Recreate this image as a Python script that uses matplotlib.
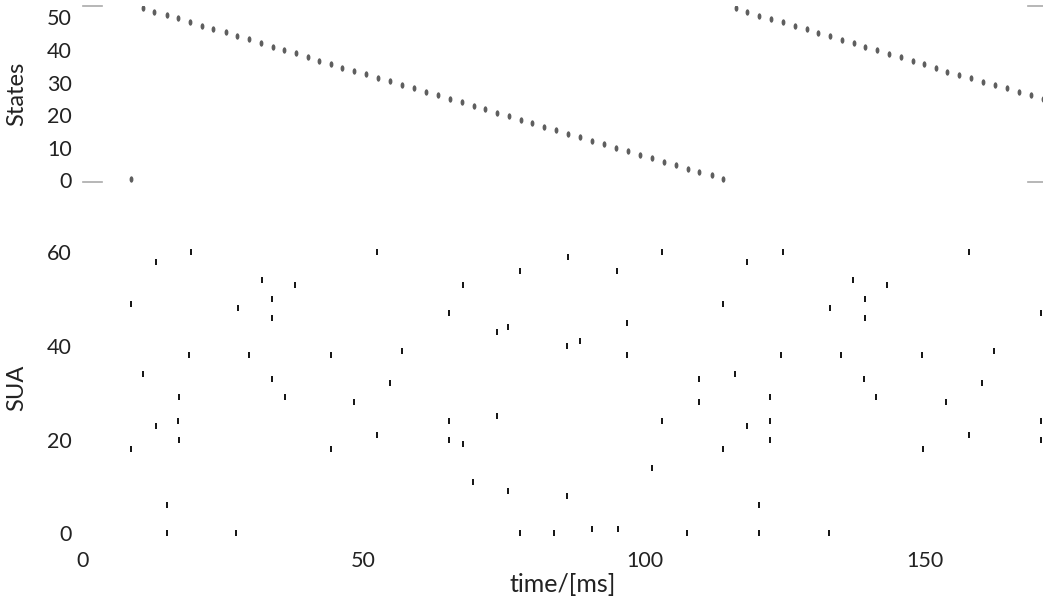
import numpy as np
import matplotlib
matplotlib.use("Agg")
import matplotlib.pyplot as plt
from matplotlib.path import Path
from matplotlib.transforms import Affine2D

plt.rcParams['font.family'] = ['Lato', 'DejaVu Sans']

# decoded state trajectory (time in ms, state index)
state_t = [8.5, 10.74, 12.70, 14.91, 16.97, 19.06, 21.14, 23.21, 25.41, 27.48, 29.56,
           31.70, 33.78, 35.85, 37.93, 40.02, 42.08, 44.17, 46.18, 48.26, 50.35,
           52.48, 54.67, 56.87, 58.95, 61.09, 63.28, 65.36, 67.50, 69.58, 71.54,
           73.68, 75.81, 77.95, 80.02, 82.10, 84.24, 86.32, 88.51, 90.65, 92.79,
           94.98, 97.06, 99.20, 101.34, 103.42, 105.56, 107.75, 109.76, 111.97, 114.03,
           116.30, 118.31, 120.45, 122.53, 124.72, 126.81, 128.89, 130.96, 133.10,
           135.19, 137.33, 139.34, 141.48, 143.54, 145.63, 147.77, 149.78, 151.86,
           153.87, 155.96, 158.10, 160.24, 162.43, 164.57, 166.65, 168.84, 170.97]
state_v = [0.3, 52.8, 51.8, 50.7, 49.7, 48.7, 47.5, 46.4, 45.4, 44.3, 43.3,
           42.1, 41.0, 40.0, 39.0, 37.8, 36.7, 35.7, 34.6, 33.6, 32.5,
           31.5, 30.5, 29.3, 28.3, 27.1, 26.1, 25.0, 24.0, 22.8, 21.9,
           20.8, 19.7, 18.6, 17.5, 16.4, 15.4, 14.3, 13.2, 12.1, 11.1,
           10.0, 9.0, 7.9, 6.8, 5.6, 4.6, 3.6, 2.5, 1.6, 0.4,
           52.8, 51.6, 50.5, 49.5, 48.5, 47.3, 46.3, 45.3, 44.3,
           43.1, 42.0, 41.0, 39.9, 38.8, 37.7, 36.6, 35.6, 34.5,
           33.4, 32.4, 31.4, 30.3, 29.2, 28.2, 27.2, 26.1, 25.0]

# single unit spikes (time in ms, unit index)
spike_t = [8.5, 8.5, 10.7, 13.0, 13.0, 15.0, 15.0, 17.0, 17.1, 17.1, 18.9, 19.2,
           27.2, 27.6, 29.6, 31.8, 33.7, 33.7, 33.6, 36.0, 37.8, 44.1, 44.2, 48.3,
           52.4, 52.4, 54.6, 56.8, 65.2, 65.2, 65.2, 67.6, 67.6, 69.5, 73.7, 73.7,
           75.7, 75.7, 77.8, 77.9, 83.9, 86.3, 86.3, 86.4, 88.5, 90.6, 95.1, 95.3,
           96.9, 96.9, 101.4, 103.2, 103.2, 107.5, 109.8, 109.8,
           114.0, 114.0, 116.2, 118.3, 118.2, 120.5, 120.5, 122.4, 122.4, 122.4,
           124.3, 124.7, 132.9, 133.1, 135.1, 137.2, 139.3, 139.3, 139.2, 141.3,
           143.3, 149.5, 149.7, 153.7, 157.9, 157.9, 160.1, 162.3, 170.7, 170.7, 170.7]
spike_n = [49, 18, 34, 58, 23, 6, 0, 24, 29, 20, 38, 60,
           0, 48, 38, 54, 50, 46, 33, 29, 53, 38, 18, 28,
           60, 21, 32, 39, 47, 24, 20, 53, 19, 11, 43, 25,
           44, 9, 56, 0, 0, 40, 8, 59, 41, 1, 56, 1,
           45, 38, 14, 60, 24, 0, 33, 28,
           49, 18, 34, 58, 23, 6, 0, 24, 29, 20,
           38, 60, 0, 48, 38, 54, 50, 46, 33, 29,
           53, 38, 18, 28, 60, 21, 32, 39, 47, 24, 20]

xticks = [0, 50, 100, 150]
state_ticks = [0, 10, 20, 30, 40, 50]
sua_ticks = [0, 20, 40, 60]

W, H = 1043, 604
fig = plt.figure(figsize=(W / 100, H / 100), dpi=100)
ax1 = fig.add_axes([83 / W, (H - 182) / H, 960 / W, 176 / H])
ax2 = fig.add_axes([83 / W, (H - 540.3) / H, 960 / W, 304.4 / H])

# vertical ellipse marker for the state dots
ell = Path.unit_circle().transformed(Affine2D().scale(0.6, 1.0))

ax1.plot(state_t, state_v, ls='none', marker=ell, ms=4.6, color='#5e5e5e', mew=0)
ax1.set_xlim(0, 171.0)
ax1.set_ylim(-0.5, 53.5)
for yy in ax1.get_ylim():
    ax1.axhline(yy, xmin=0, xmax=0.02, color='#aaaaaa', lw=1.2, clip_on=False)
    ax1.axhline(yy, xmin=0.984, xmax=1, color='#aaaaaa', lw=1.2, clip_on=False)
ax1.set_yticks(state_ticks)
ax1.set_xticks([])
ax1.set_ylabel('States', fontsize=17, color='#222222')
ax1.yaxis.set_label_coords(-0.058, 0.5)

ax2.plot(spike_t, spike_n, ls='none', marker='|', ms=4.4, mew=1.3, color='black')
ax2.set_xlim(0, 171.0)
ax2.set_ylim(-1.5, 63.5)
ax2.set_yticks(sua_ticks)
ax2.set_xticks(xticks)
ax2.set_ylabel('SUA', fontsize=17, color='#222222')
ax2.yaxis.set_label_coords(-0.058, 0.5)
ax2.set_xlabel('time/[ms]', fontsize=18, labelpad=1, color='#222222')

for ax in (ax1, ax2):
    for s in ax.spines.values():
        s.set_visible(False)
    ax.tick_params(length=0, labelsize=15.5, labelcolor='#222222', pad=8)

fig.savefig('out.png', dpi=100)
